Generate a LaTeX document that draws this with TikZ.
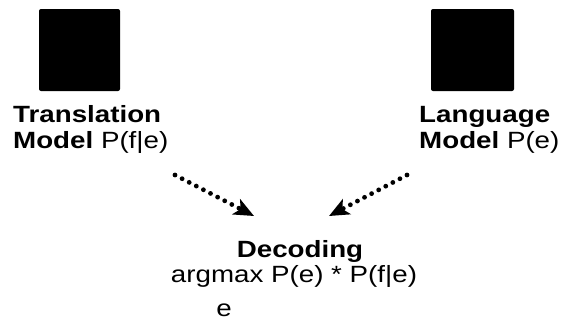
\documentclass[tikz,border=0pt]{standalone}
\usepackage{fontspec}
\setmainfont{Liberation Sans}
\usetikzlibrary{arrows.meta,positioning}
\newcommand{\wide}[1]{\scalebox{1.18}[1]{#1}}
\begin{document}
\begin{tikzpicture}[x=1pt,y=-1pt,
  every node/.style={font=\fontsize{23.5}{26}\selectfont, inner sep=0pt},
  modelbox/.style={fill=black, rounded corners=2pt},
  dotarrow/.style={line width=4.8pt, line cap=round, dash pattern=on 0pt off 8pt,
    -{Stealth[length=20pt,width=17pt,inset=5pt,line cap=butt]}}]
    \useasboundingbox (0,0) rectangle (561,325);
    % the two models
    \fill[modelbox] (39,9) rectangle (120,91);
    \fill[modelbox] (431,9) rectangle (514,91);
    \node (tmtext) [anchor=base west, align=left] at (13,148) {\wide{\textbf{Translation}}\\\wide{\textbf{Model} P(f|e)}};
    \node (lmtext) [anchor=base west, align=left] at (419,148) {\wide{\textbf{Language}}\\\wide{\textbf{Model} P(e)}};
    % decoding
    \node (decoding) [anchor=base] at (300,257) {\wide{\textbf{Decoding}}};
    \node (argmax) [anchor=base] at (294,282) {\wide{argmax P(e) * P(f|e)}};
    \node (sube) [anchor=base] at (224,316) {\wide{e}};
    \coordinate (tmend) at (254,216);
    \coordinate (lmend) at (329,216);
    \draw[dotarrow] (175,175) -- (tmend);
    \draw[dotarrow] (407,175) -- (lmend);
\end{tikzpicture}
\end{document}
